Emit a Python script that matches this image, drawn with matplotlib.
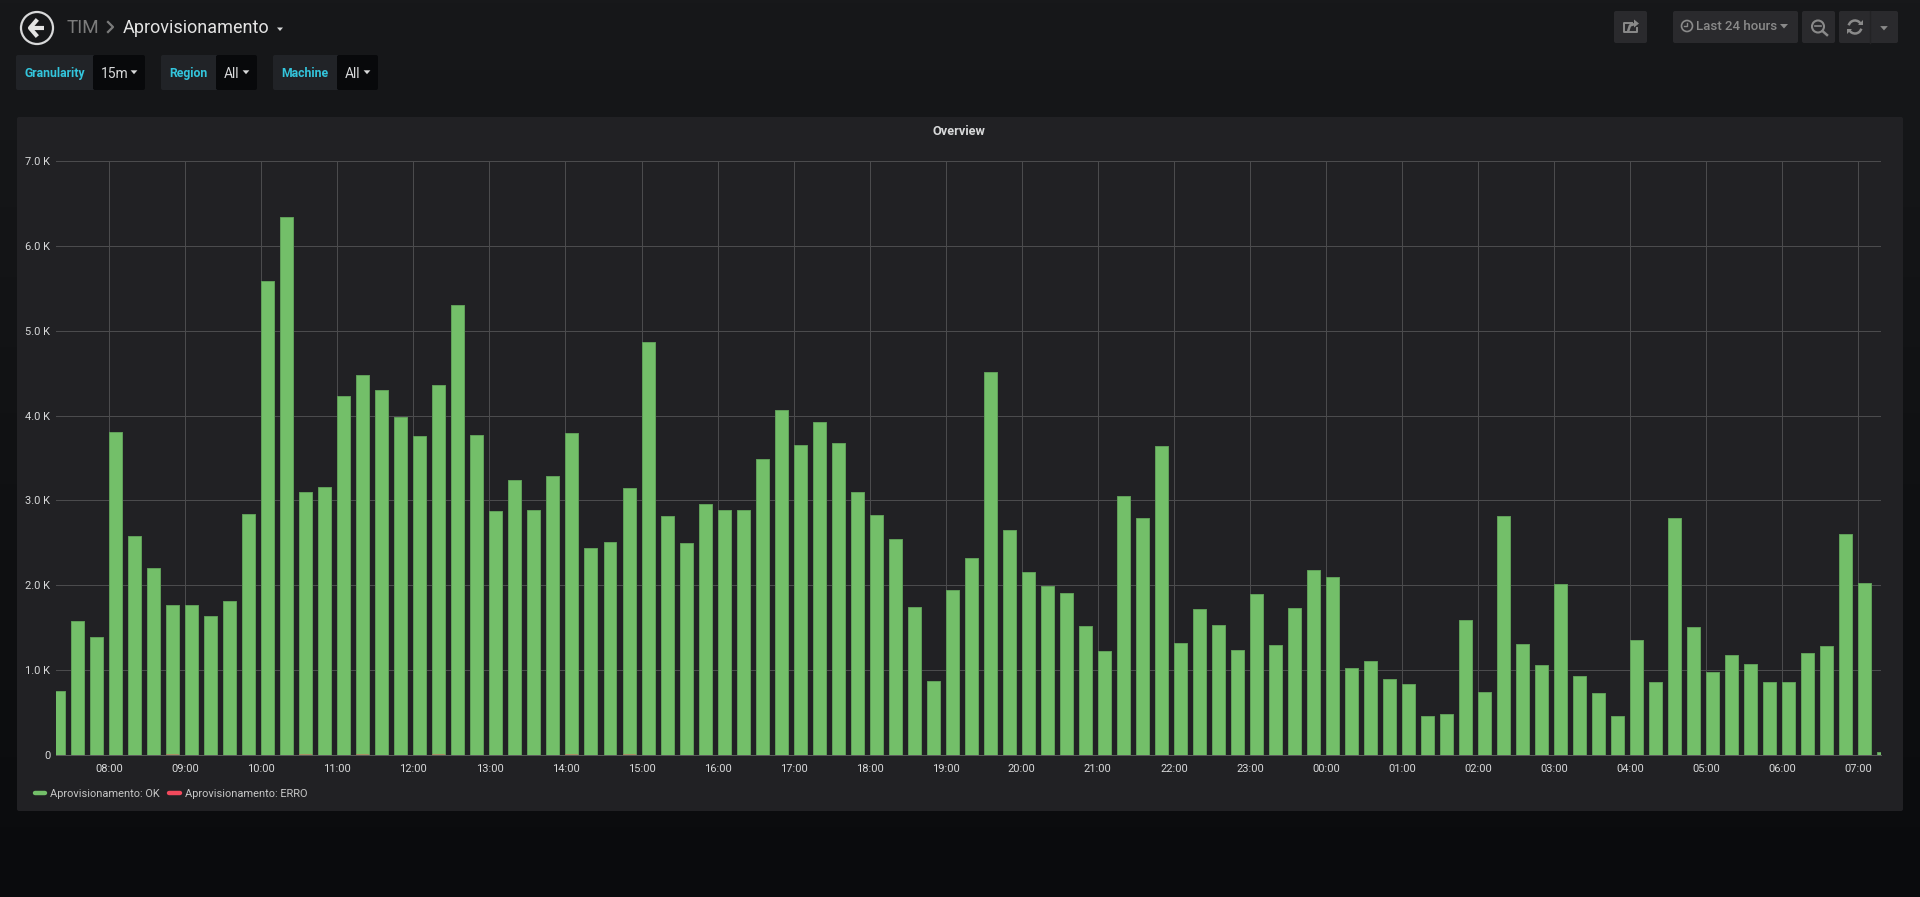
import numpy as np
import pandas as pd
import matplotlib
matplotlib.use('Agg')
import matplotlib.pyplot as plt
import matplotlib.dates as mdates
from matplotlib.lines import Line2D
from matplotlib.patches import Circle, FancyBboxPatch, Polygon, Arc

plt.rcParams['font.family'] = ['Roboto', 'DejaVu Sans']

# 15 min buckets, first one starts 07:15
ok_values = [745, 1575, 1389, 3806, 2581, 2206, 1768, 1768, 1634, 1811, 2838, 5587,
             6341, 3099, 3154, 4232, 4480, 4303, 3979, 3760, 4366, 5301, 3773, 2880,
             3242, 2888, 3290, 3800, 2440, 2510, 3140, 4870, 2810, 2500, 2960, 2890,
             2890, 3490, 4070, 3650, 3920, 3680, 3100, 2830, 2540, 1740, 870, 1940,
             2320, 4510, 2646, 2150, 1988, 1909, 1512, 1224, 3051, 2791, 3642, 1315,
             1713, 1524, 1232, 1894, 1291, 1724, 2177, 2091, 1016, 1102, 890, 831,
             453, 476, 1587, 740, 2810, 1300, 1060, 2010, 930, 730, 460, 1350,
             850, 2790, 1500, 970, 1170, 1070, 850, 850, 1200, 1280, 2600, 2020, 30]
# barely visible slivers at the foot of a few bars
err_buckets = ['08:45', '10:30', '11:15', '12:15', '14:00', '14:45']
err_values = [8, 10, 10, 10, 10, 10]
y_ticks = [0, 1000, 2000, 3000, 4000, 5000, 6000, 7000]
y_labels = ['0', '1.0 K', '2.0 K', '3.0 K', '4.0 K', '5.0 K', '6.0 K', '7.0 K']

W, H = 1920, 897
GREEN = '#73BF69'
RED = '#F2495C'

fig = plt.figure(figsize=(W / 100, H / 100), dpi=100)

# page chrome, in pixel coordinates
bg = fig.add_axes([0, 0, 1, 1])
bg.set_xlim(0, W)
bg.set_ylim(H, 0)
bg.axis('off')
grad = np.linspace(0, 1, 256).reshape(-1, 1)
top = np.array([23, 24, 26]) / 255
bottom = np.array([10, 11, 13]) / 255
bg.imshow((top + (bottom - top) * grad[..., None]), extent=[0, W, H, 0], aspect='auto', zorder=0)
bg.set_xlim(0, W)
bg.set_ylim(H, 0)


def box(x0, y0, x1, y1, color, r=2):
    bg.add_patch(FancyBboxPatch((x0 + r, y0 + r), x1 - x0 - 2 * r, y1 - y0 - 2 * r,
                                boxstyle='round,pad=%d,rounding_size=%d' % (r, r),
                                fc=color, ec='none', zorder=1))


def caret(x, y, size, color):
    bg.add_patch(Polygon([(x - size, y - size / 2), (x + size, y - size / 2), (x, y + size / 2 + 0.5)],
                         fc=color, ec='none', zorder=3))


def label(x, y, s, color, size, weight='normal', ha='left'):
    bg.text(x, y, s, color=color, fontsize=size, fontweight=weight, ha=ha, va='center', zorder=3)


box(17, 117, 1903, 811, '#212124', 2)

# back button + breadcrumb
bg.add_patch(Circle((37, 28), 16, fc='none', ec='#d8d9da', lw=1.6, zorder=3))
bg.plot([29, 44], [28, 28], color='#e3e3e3', lw=3, zorder=3, solid_capstyle='butt')
bg.plot([36, 30, 36], [21, 28, 35], color='#e3e3e3', lw=3, zorder=3)
label(67, 28, 'TIM', '#7b7b7b', 13.6)
bg.plot([108, 113, 108], [22, 27, 32], color='#7b7b7b', lw=1.6, zorder=3)
label(123, 28, 'Aprovisionamento', '#e3e3e3', 13)
caret(280, 29, 3, '#d8d9da')

# template variables
for x0, x1, x2, name, val in [(16, 93, 145, 'Granularity', '15m'),
                              (161, 216, 257, 'Region', 'All'),
                              (273, 337, 378, 'Machine', 'All')]:
    box(x0, 55, x1 + 3, 90, '#212327')
    box(x1, 55, x2, 90, '#08090b')
    bg.add_patch(plt.Rectangle((x1, 56), 4, 33, fc='#08090b', ec='none', zorder=1))
    label((x0 + x1) / 2, 73.5, name, '#33C5DC', 8.8, 'bold', ha='center')
    label(x1 + 8, 74, val, '#d8d9da', 10)
    caret(x2 - 11, 72, 3.4, '#d8d9da')

# top right buttons
for x0, x1 in [(1614, 1647), (1673, 1798), (1802, 1835), (1839, 1898)]:
    box(x0, 11, x1, 43, '#2a2a2d')
bg.plot([1870, 1870], [11, 43], color='#232325', lw=1, zorder=2)
GREY = '#8a8a8a'
label(1696.5, 27, 'Last 24 hours', GREY, 9.5, 'medium')
caret(1784, 26, 4, GREY)
caret(1884, 28, 3.8, GREY)
bg.add_patch(Circle((1687, 26), 5.5, fc='none', ec=GREY, lw=1.2, zorder=3))
bg.plot([1687, 1687, 1684], [23, 26.5, 26.5], color=GREY, lw=1, zorder=3)
bg.add_patch(Circle((1818, 26.5), 6, fc='none', ec=GREY, lw=1.5, zorder=3))
bg.plot([1815, 1821], [26.5, 26.5], color=GREY, lw=1.2, zorder=3)
bg.plot([1822.5, 1827], [31, 35], color=GREY, lw=1.8, zorder=3)
bg.add_patch(Arc((1855, 27), 13, 13, theta1=195, theta2=335, ec=GREY, lw=1.8, zorder=3))
bg.add_patch(Arc((1855, 27), 13, 13, theta1=15, theta2=155, ec=GREY, lw=1.8, zorder=3))
bg.add_patch(Polygon([(1858, 25), (1863, 25), (1863, 20)], fc=GREY, ec='none', zorder=3))
bg.add_patch(Polygon([(1852, 29), (1847, 29), (1847, 34)], fc=GREY, ec='none', zorder=3))
bg.plot([1632, 1623.5, 1623.5, 1636.5, 1636.5], [23, 23, 32.5, 32.5, 28], color=GREY, lw=1.4, zorder=3)
bg.plot([1628.5, 1630, 1635], [30, 25.5, 24], color=GREY, lw=1.8, zorder=3)
bg.add_patch(Polygon([(1634, 19.5), (1639, 23.5), (1634, 27.5)], fc=GREY, ec='none', zorder=3))

label(959, 131.5, 'Overview', '#d8d9da', 9.2, 'bold', ha='center')

# the graph itself
plot_l, plot_r, plot_t, plot_b = 56, 1881, 161.5, 754.5
ax = fig.add_axes([plot_l / W, 1 - plot_b / H, (plot_r - plot_l) / W, (plot_b - plot_t) / H])
ax.patch.set_alpha(0)

times = pd.date_range('2019-01-01 07:15', periods=len(ok_values), freq='15min')
err_times = pd.to_datetime(['2019-01-01 ' + t for t in err_buckets])
bar_w = pd.Timedelta(minutes=10.25) / pd.Timedelta(days=1)
ax.bar(times, ok_values, width=bar_w, align='edge', color=GREEN, edgecolor='#5f9e58', linewidth=0.72, zorder=3)
ax.bar(err_times, err_values, width=bar_w, align='edge', color=RED, alpha=0.4, linewidth=0, zorder=4)

ax.set_xlim(pd.Timestamp('2019-01-01 07:18'), pd.Timestamp('2019-01-02 07:18'))
ax.set_ylim(0, 7000)
ax.set_yticks(y_ticks)
ax.set_yticklabels(y_labels)
ax.xaxis.set_major_locator(mdates.HourLocator())
ax.xaxis.set_major_formatter(mdates.DateFormatter('%H:%M'))
ax.grid(True, color='#4b4b4d', lw=0.72, zorder=0)
ax.set_axisbelow(True)
ax.axhline(0, color='#5a5a5a', lw=0.72, clip_on=False, zorder=5)
ax.tick_params(axis='both', length=0, labelcolor='#d8d9da', labelsize=8)
ax.tick_params(axis='x', pad=6.5)
ax.tick_params(axis='y', pad=4)
for t in ax.get_yticklabels():
    t.set_verticalalignment('center_baseline')
for s in ax.spines.values():
    s.set_visible(False)

handles = [Line2D([], [], color=GREEN, lw=3.2, solid_capstyle='round'),
           Line2D([], [], color=RED, lw=3.2, solid_capstyle='round')]
leg = ax.legend(handles, ['Aprovisionamento: OK', 'Aprovisionamento: ERRO'], ncol=2, frameon=False,
                loc='center left', bbox_to_anchor=(34.5 / W, 1 - 794 / H), bbox_transform=fig.transFigure,
                fontsize=7.95, labelcolor='#c7c7c7', handlelength=0.95, handletextpad=0.45,
                columnspacing=0.85, borderaxespad=0, borderpad=0)

fig.savefig('out.png', dpi=100, facecolor='#0b0c0e')
